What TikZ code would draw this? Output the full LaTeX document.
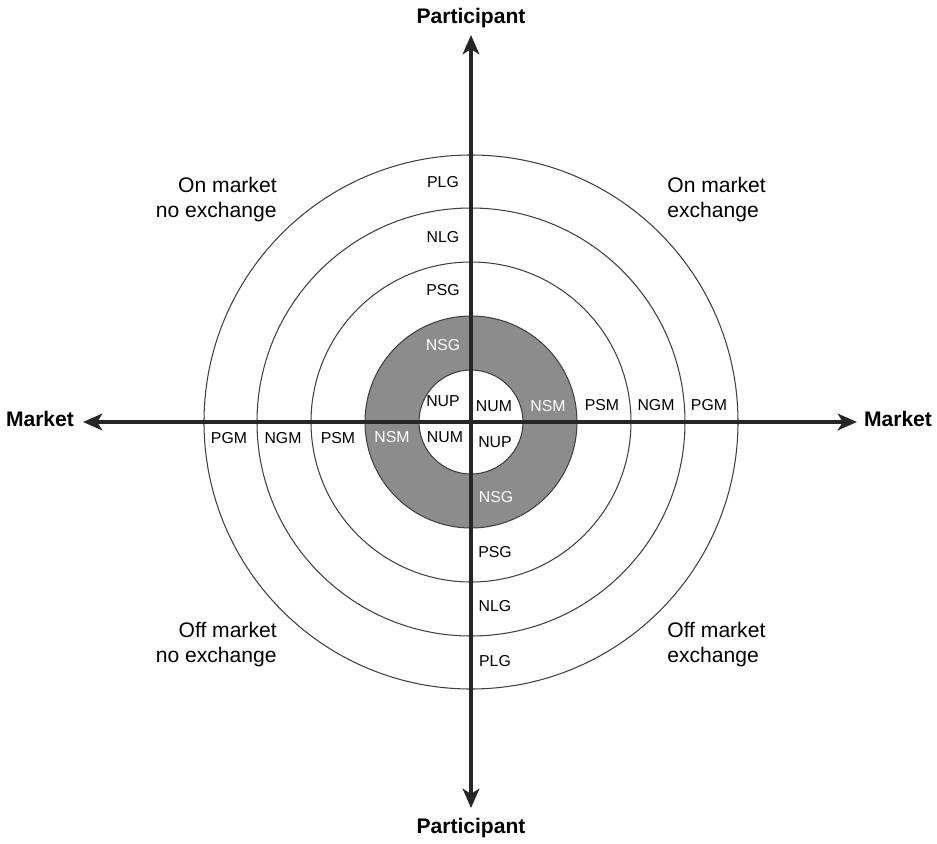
\documentclass[tikz,border=0pt]{standalone}
\usepackage{fontspec}
\setmainfont{Liberation Sans}
\usepackage{xcolor}
\usetikzlibrary{arrows.meta, positioning}

\begin{document}
\begin{tikzpicture}[x=0.02cm, y=0.02cm,
    axis/.style={line width=2.2pt, draw=black!85, {Stealth[length=11pt,width=9.5pt,inset=3pt]}-{Stealth[length=11pt,width=9.5pt,inset=3pt]}},
    ring/.style={line width=0.6pt, draw=black!75},
    lab/.style={font=\fontsize{9}{10}\selectfont, inner sep=1pt},
    wlab/.style={lab, text=white},
    axlab/.style={font=\fontsize{12}{14}\selectfont\bfseries},
    quad/.style={font=\fontsize{12}{14.2}\selectfont, inner sep=0pt}]
      \useasboundingbox (-471,-421) rectangle (466,422);

      % shaded ring
      \fill[black!45, even odd rule] (0,0) circle (106) (0,0) circle (52);
      \foreach \r in {52,106,160,214,267}
        \draw[ring] (0,0) circle (\r);

      % axes
      \coordinate (W) at (-388,0);
      \coordinate (E) at (386,0);
      \coordinate (N) at (0,387);
      \coordinate (S) at (0,-386);
      \draw[axis] (W) -- (E);
      \draw[axis] (S) -- (N);

      \node[axlab] (mW) at (-431,3) {Market};
      \node[axlab] (mE) at (427,3) {Market};
      \node[axlab] (pN) at (0,404) {Participant};
      \node[axlab] (pS) at (0,-406) {Participant};

      % quadrants
      \node[quad, anchor=east, align=right] (q2) at (-194,222) {On market\\no exchange};
      \node[quad, anchor=west, align=left] (q1) at (196,222) {On market\\exchange};
      \node[quad, anchor=east, align=right] (q3) at (-194,-223) {Off market\\no exchange};
      \node[quad, anchor=west, align=left] (q4) at (196,-223) {Off market\\exchange};

      % upper axis
      \node[lab] (plgN) at (-28,240) {PLG};
      \node[lab] (nlgN) at (-28,185) {NLG};
      \node[lab] (psgN) at (-28,132) {PSG};
      \node[wlab] (nsgN) at (-28,77) {NSG};
      \node[lab] (nupN) at (-28,21) {NUP};

      % right axis
      \node[lab] (numE) at (23,16) {NUM};
      \node[wlab] (nsmE) at (77,16) {NSM};
      \node[lab] (psmE) at (131,17) {PSM};
      \node[lab] (ngmE) at (185,17) {NGM};
      \node[lab] (pgmE) at (238,17) {PGM};

      % left axis
      \node[lab] (numW) at (-26,-15) {NUM};
      \node[wlab] (nsmW) at (-79,-15) {NSM};
      \node[lab] (psmW) at (-133,-16) {PSM};
      \node[lab] (ngmW) at (-188,-16) {NGM};
      \node[lab] (pgmW) at (-242,-16) {PGM};

      % lower axis
      \node[lab] (nupS) at (24,-20) {NUP};
      \node[wlab] (nsgS) at (25,-75) {NSG};
      \node[lab] (psgS) at (24,-130) {PSG};
      \node[lab] (nlgS) at (24,-184) {NLG};
      \node[lab] (plgS) at (24,-239) {PLG};

    \end{tikzpicture}
\end{document}
